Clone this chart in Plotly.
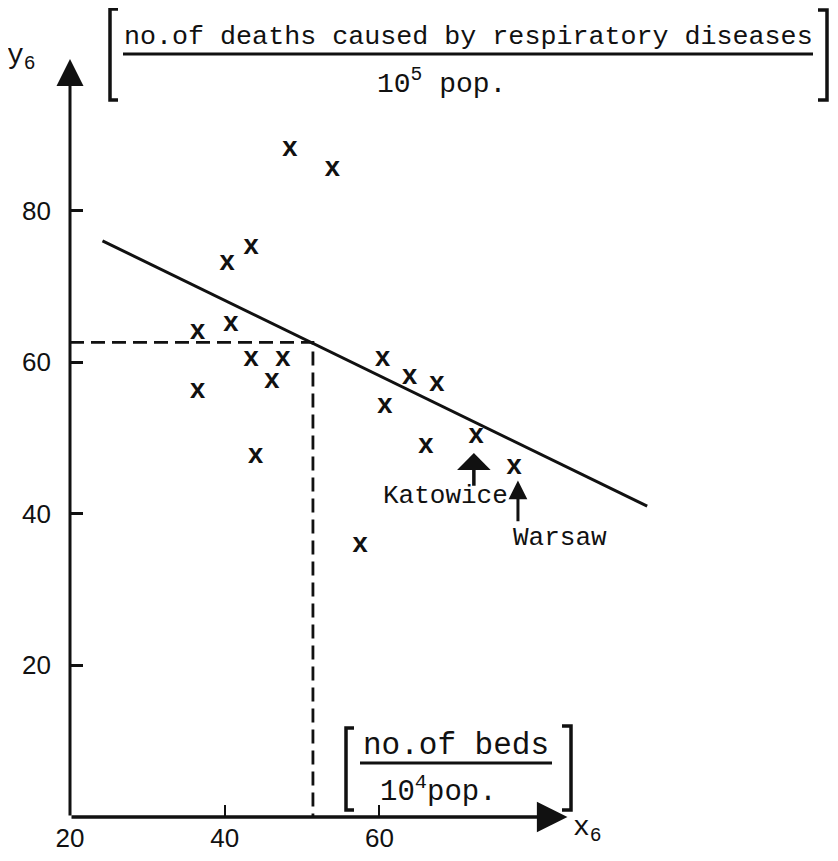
import plotly.graph_objects as go

# ---------------- data ----------------
beds_x6 = [48.4, 53.9, 43.4, 40.3, 36.5, 40.8, 43.4, 47.5, 46.1, 36.5, 44.0,
           60.4, 63.9, 67.4, 60.7, 66.0, 72.5, 77.4, 57.5]
deaths_y6 = [88.1, 85.4, 75.2, 73.1, 64.0, 65.0, 60.4, 60.4, 57.5, 56.1, 47.6,
             60.4, 58.0, 57.1, 54.2, 48.9, 50.2, 46.1, 35.8]
fit_x = [24.2, 94.6]
fit_y = [76.0, 41.0]
read_x = 51.4
read_y = 62.6          # predicted y6
katowice = (72.2, 48.0, 43.5)   # arrow tip x, tip y, tail y
warsaw = (77.9, 44.4, 38.8)
x_tickvals = [20, 40, 60]
x_ticktext = ["20", "40", "60"]
y_tickvals = [20, 40, 60, 80]
y_ticktext = ["20", "40", "60", "80"]
x_range = [20, 115]
y_range = [0, 105]
x_axis_end = 84.3
y_axis_end = 100

MONO = "Liberation Mono, Courier New, monospace"
SANS = "Liberation Sans, Arial, sans-serif"
INK = "#111111"

# the page body adds an 8 px margin; the figure is sized to fit inside the window
OFF = 8
W, H = 838 - 2 * OFF, 861 - 2 * OFF
PLOT_L, PLOT_R, PLOT_T, PLOT_B = 70, 805, 21, 817        # plot area on the page
ML, MT = PLOT_L - OFF, PLOT_T - OFF
MR, MB = W - (PLOT_R - OFF), H - (PLOT_B - OFF)
L, R, T, B = ML, W - MR, MT, H - MB


def P(px, py):
    """pixel position on the page -> paper coordinates"""
    fx, fy = px - OFF, py - OFF
    return (fx - L) / (R - L), (B - fy) / (B - T)


fig = go.Figure()

# regression line
fig.add_trace(go.Scatter(x=fit_x, y=fit_y, mode="lines",
                         line=dict(color=INK, width=3), hoverinfo="skip"))
# dashed read-off lines
fig.add_trace(go.Scatter(x=[x_range[0], read_x, read_x], y=[read_y, read_y, 0],
                         mode="lines",
                         line=dict(color=INK, width=2.8, dash="14px,7px"),
                         hoverinfo="skip"))
# observations drawn as typewriter "x"
fig.add_trace(go.Scatter(x=beds_x6, y=deaths_y6, mode="text", text=["x"] * len(beds_x6),
                         textposition="middle center",
                         textfont=dict(family=MONO, size=27, color=INK, weight="bold")))

annotations = []
# axes with arrow heads
annotations.append(dict(x=x_range[0], y=y_axis_end, ax=x_range[0], ay=0,
                        xref="x", yref="y", axref="x", ayref="y", text="",
                        showarrow=True, arrowhead=2, arrowwidth=3, arrowsize=1.8,
                        arrowcolor=INK))
annotations.append(dict(x=x_axis_end, y=0, ax=x_range[0], ay=0,
                        xref="x", yref="y", axref="x", ayref="y", text="",
                        showarrow=True, arrowhead=2, arrowwidth=3.5, arrowsize=1.75,
                        arrowcolor=INK))
# city arrows
annotations.append(dict(x=katowice[0], y=katowice[1], ax=katowice[0], ay=katowice[2],
                        xref="x", yref="y", axref="x", ayref="y", text="",
                        showarrow=True, arrowhead=1, arrowwidth=3.5, arrowsize=1.6,
                        arrowcolor=INK))
annotations.append(dict(x=warsaw[0], y=warsaw[1], ax=warsaw[0], ay=warsaw[2],
                        xref="x", yref="y", axref="x", ayref="y", text="",
                        showarrow=True, arrowhead=2, arrowwidth=3, arrowsize=1.25,
                        arrowcolor=INK))


def label(text, px, py, size, xanchor="center", yanchor="middle"):
    x, y = P(px, py)
    annotations.append(dict(x=x, y=y, xref="paper", yref="paper", text=text,
                            showarrow=False, xanchor=xanchor, yanchor=yanchor,
                            font=dict(family=MONO, size=size, color=INK)))


label("Katowice", 445, 496, 26)
label("Warsaw", 560, 538, 26)
label("y<sub>6</sub>", 5, 58, 28, xanchor="left")
label("x<sub>6</sub>", 571, 829, 28, xanchor="left")
# top axis unit
label("no.of deaths caused by respiratory diseases", 468, 37, 26.7)
label("10<sup>5</sup> pop.", 441, 82, 28)
# bottom axis unit
label("no.of beds", 456, 745, 31)
label("10<sup>4</sup>pop.", 438, 790, 29)

shapes = []


def seg(p0, p1, width=3):
    x0, y0 = P(*p0)
    x1, y1 = P(*p1)
    shapes.append(dict(type="line", xref="paper", yref="paper", x0=x0, y0=y0,
                       x1=x1, y1=y1, line=dict(color=INK, width=width)))


def bracket(xv, ytop, ybot, serif, width=3.5):
    pts = [P(xv + serif, ytop), P(xv, ytop), P(xv, ybot), P(xv + serif, ybot)]
    path = "M " + " L ".join(f"{a},{b}" for a, b in pts)
    shapes.append(dict(type="path", xref="paper", yref="paper", path=path,
                       line=dict(color=INK, width=width)))


# fraction bars
seg((123, 54), (813, 54), 3)
seg((360, 763), (552, 763), 3)
# brackets
bracket(110, 9, 100, 8)
bracket(827, 10, 100, -9)
bracket(346, 728, 810, 8)
bracket(571, 726, 810, -9)

fig.update_layout(
    width=W, height=H,
    margin=dict(l=ML, r=MR, t=MT, b=MB, pad=0, autoexpand=False),
    paper_bgcolor="white", plot_bgcolor="white",
    showlegend=False,
    annotations=annotations, shapes=shapes,
    xaxis=dict(range=x_range, showgrid=False, zeroline=False, showline=False,
               automargin=False,
               tickmode="array", tickvals=x_tickvals, ticktext=x_ticktext,
               ticks="inside", ticklen=12, tickwidth=2, tickcolor=INK,
               ticklabelstandoff=3,
               tickfont=dict(family=SANS, size=26, color=INK)),
    yaxis=dict(range=y_range, showgrid=False, zeroline=False, showline=False,
               automargin=False,
               tickmode="array", tickvals=y_tickvals, ticktext=y_ticktext,
               ticks="inside", ticklen=13, tickwidth=3, tickcolor=INK,
               ticklabelstandoff=18,
               tickfont=dict(family=SANS, size=26, color=INK)),
)

fig.write_html("out.html")
